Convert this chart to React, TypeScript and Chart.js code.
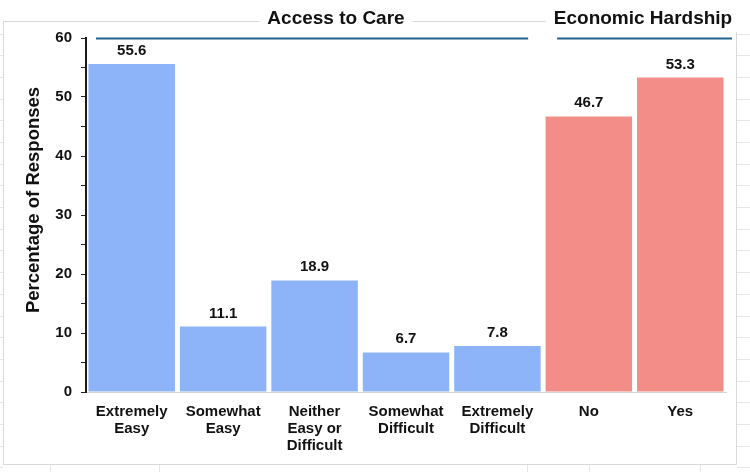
import React, { useEffect, useRef } from "react";
import { Chart, registerables } from "chart.js";

Chart.register(...registerables);

// Survey results: access to care and economic hardship
const categories: string[][] = [
  ["Extremely", "Easy"],
  ["Somewhat", "Easy"],
  ["Neither", "Easy or", "Difficult"],
  ["Somewhat", "Difficult"],
  ["Extremely", "Difficult"],
  ["No"],
  ["Yes"],
];
const values: number[] = [55.6, 11.1, 18.9, 6.7, 7.8, 46.7, 53.3];
const groups: string[] = ["care", "care", "care", "care", "care", "hardship", "hardship"];
const groupTitles = { care: "Access to Care", hardship: "Economic Hardship" };
const yTicks = { min: 0, max: 60, step: 5, labelEvery: 10 };

const FONT = "'Liberation Sans', Arial, Helvetica, sans-serif";
const TEXT = "#111111";
const BLUE = "#8db4f8";
const RED = "#f28e87";
const HEADER_LINE = "#23628e";

const frame = {
  id: "frame",
  beforeDraw(chart: any) {
    const { ctx, width, height } = chart;
    ctx.save();
    ctx.fillStyle = "#ffffff";
    ctx.fillRect(0, 0, width, height);
    // faint worksheet cell lines around the chart box
    ctx.strokeStyle = "#e6e6e6";
    ctx.lineWidth = 1;
    for (let y = 33.5; y < height; y += 21.7) {
      ctx.beginPath();
      ctx.moveTo(0, Math.round(y) + 0.5);
      ctx.lineTo(3, Math.round(y) + 0.5);
      ctx.moveTo(737, Math.round(y) + 0.5);
      ctx.lineTo(width, Math.round(y) + 0.5);
      ctx.stroke();
    }
    [50, 159, 527, 589, 700].forEach((x) => {
      ctx.beginPath();
      ctx.moveTo(x + 0.5, 465);
      ctx.lineTo(x + 0.5, height);
      ctx.stroke();
    });
    // chart box
    ctx.strokeStyle = "#d9d9d9";
    ctx.strokeRect(3.5, 21.5, 733, 443);
    ctx.restore();
  },
  afterDraw(chart: any) {
    const { ctx, scales } = chart;
    const xs = scales.x;
    const step = (xs.right - xs.left) / categories.length;
    const edge = (k: number) => xs.left + k * step;
    ctx.save();
    ctx.font = `bold 19px ${FONT}`;
    ctx.textAlign = "center";
    ctx.textBaseline = "middle";
    const heads = [
      { text: groupTitles.care, cx: 336, x0: edge(0) + 10, x1: edge(5) - 15 },
      { text: groupTitles.hardship, cx: 643, x0: edge(5) + 14, x1: edge(7) + 6 },
    ];
    heads.forEach((h) => {
      const w = ctx.measureText(h.text).width;
      ctx.fillStyle = "#ffffff";
      ctx.fillRect(h.cx - w / 2 - 8, 6, w + 16, 26);
      ctx.fillStyle = TEXT;
      ctx.fillText(h.text, h.cx, 19);
      ctx.strokeStyle = HEADER_LINE;
      ctx.lineWidth = 2;
      ctx.beginPath();
      ctx.moveTo(h.x0, 38.5);
      ctx.lineTo(h.x1, 38.5);
      ctx.stroke();
    });
    // y-axis title
    ctx.translate(34, 200);
    ctx.rotate(-Math.PI / 2);
    ctx.fillStyle = TEXT;
    ctx.font = `bold 18.5px ${FONT}`;
    ctx.fillText("Percentage of Responses", 0, 0);
    ctx.restore();
  },
};

const valueLabels = {
  id: "valueLabels",
  afterDatasetsDraw(chart: any) {
    const { ctx } = chart;
    const meta = chart.getDatasetMeta(0);
    ctx.save();
    ctx.font = `bold 15px ${FONT}`;
    ctx.fillStyle = TEXT;
    ctx.textAlign = "center";
    ctx.textBaseline = "alphabetic";
    meta.data.forEach((bar: any, i: number) => {
      ctx.fillText(values[i].toFixed(1), bar.x, bar.y - 9);
    });
    ctx.restore();
  },
};

export default function App() {
  const ref = useRef<HTMLCanvasElement | null>(null);

  useEffect(() => {
    if (!ref.current) return;
    const chart = new Chart(ref.current, {
      type: "bar",
      data: {
        labels: categories,
        datasets: [
          {
            data: values,
            backgroundColor: groups.map((g) => (g === "care" ? BLUE : RED)),
            borderWidth: 0,
            barPercentage: 0.946,
            categoryPercentage: 1,
          },
        ],
      },
      options: {
        animation: false,
        responsive: false,
        devicePixelRatio: 1,
        layout: { padding: { top: 38, right: 24, left: 0, bottom: 0 } },
        plugins: {
          legend: { display: false },
          tooltip: { enabled: false },
        },
        scales: {
          x: {
            afterFit: (s: any) => {
              s.height = 80;
            },
            grid: { display: true, drawOnChartArea: false, drawTicks: false },
            border: { display: true, color: "#d4d4d4", width: 1 },
            ticks: {
              color: TEXT,
              padding: 11,
              maxRotation: 0,
              autoSkip: false,
              font: { family: FONT, size: 15, weight: "bold", lineHeight: 1.15 },
            },
          },
          y: {
            min: yTicks.min,
            max: yTicks.max,
            afterFit: (s: any) => {
              s.width = 86;
            },
            grid: {
              drawOnChartArea: false,
              drawTicks: true,
              tickLength: 5,
              tickColor: "#222222",
              tickWidth: 1,
            },
            border: { display: true, color: "#1a1a1a", width: 2 },
            ticks: {
              stepSize: yTicks.step,
              autoSkip: false,
              padding: 9,
              color: TEXT,
              font: { family: FONT, size: 15, weight: "bold" },
              callback: (v: any) => (Number(v) % yTicks.labelEvery === 0 ? String(v) : ""),
            },
          },
        },
      },
      plugins: [frame, valueLabels],
    });
    return () => chart.destroy();
  }, []);

  return (
    <div style={{ position: "absolute", left: 0, top: 0, width: 750, height: 472 }}>
      <canvas ref={ref} width={750} height={472} style={{ display: "block" }} />
    </div>
  );
}
